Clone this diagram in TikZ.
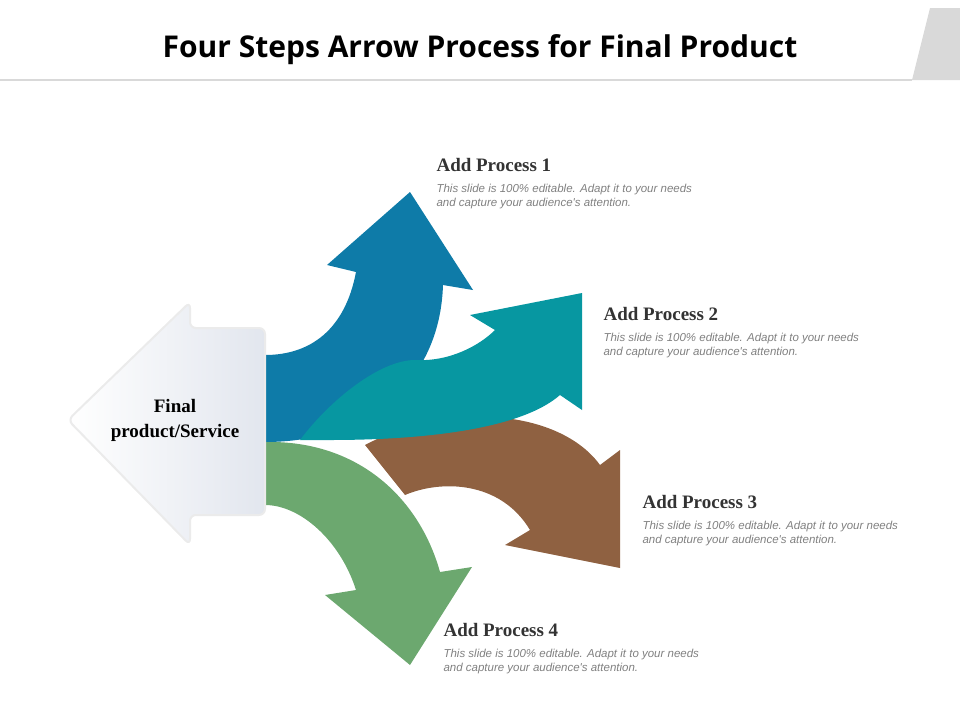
\documentclass[tikz,border=0pt]{standalone}
\usepackage{fontspec}
\setmainfont{Liberation Serif}
\setsansfont{Open Sans}
\newfontfamily\descfont{Liberation Sans}
\definecolor{blueA}{HTML}{0E7BA8}
\definecolor{tealA}{HTML}{0797A1}
\definecolor{brownA}{HTML}{8F6141}
\definecolor{greenA}{HTML}{6CA86F}
\definecolor{paleA}{HTML}{E2E6EE}
\begin{document}
\begin{tikzpicture}[x=1pt,y=-1pt,
    title/.style={font=\sffamily\bfseries\fontsize{30}{34}\selectfont},
    head/.style={anchor=west,font=\bfseries\fontsize{19}{22}\selectfont,text=black!80},
    desc/.style={anchor=north west,align=left,font=\descfont\itshape\fontsize{11.5}{14}\selectfont,text=black!50},
    shade/.style={draw=black!8,line width=2pt}]

\useasboundingbox (0,0) rectangle (960,720);

% title bar
\node[title] (title) at (480,50) {Four Steps Arrow Process for Final Product};
\fill[black!15] (930,8) -- (960,8) -- (960,80) -- (912,80) -- cycle;
\draw[black!15,line width=1.5pt] (0,80) -- (912,80);

% arrows
\fill[greenA] (265,442) .. controls (360,440) and (420,500) .. (440,572)
   -- (472,567) -- (410,665) -- (325,595) -- (356,590)
   .. controls (340,540) and (300,505) .. (265,505) -- cycle;
\fill[brownA] (365,445) .. controls (450,400) and (560,410) .. (600,465)
   -- (620,450) -- (620,568) -- (505,545) -- (530,530)
   .. controls (500,480) and (440,480) .. (405,495) -- cycle;
\fill[blueA] (265,442) .. controls (370,442) and (440,380) .. (443,285)
   -- (473,290) -- (410,192) -- (327,265) -- (356,272)
   .. controls (345,330) and (310,355) .. (265,355) -- cycle;
\fill[tealA] (300,440) .. controls (330,400) and (380,360) .. (415,360)
   .. controls (450,362) and (480,345) .. (495,330)
   -- (470,315) -- (582,293) -- (582,410) -- (560,395)
   .. controls (520,430) and (420,440) .. (330,440) -- cycle;

% center arrow
\filldraw[shade,left color=white,right color=paleA,rounded corners=6pt]
   (68,420) -- (190,302) -- (190,328) -- (265,328) -- (265,515)
   -- (190,515) -- (190,545) -- cycle;
\node[align=center,font=\bfseries\fontsize{19}{25}\selectfont] (final) at (175,420) {Final\\product/Service};

% labels
\node[head] (h1) at (433,165) {Add Process 1};
\node[desc] (d1) at (433,181) {This slide is 100\% editable. Adapt it to your needs\\and capture your audience's attention.};
\node[head] (h2) at (600,314) {Add Process 2};
\node[desc] (d2) at (600,330) {This slide is 100\% editable. Adapt it to your needs\\and capture your audience's attention.};
\node[head] (h3) at (639,502) {Add Process 3};
\node[desc] (d3) at (639,518) {This slide is 100\% editable. Adapt it to your needs\\and capture your audience's attention.};
\node[head] (h4) at (440,630) {Add Process 4};
\node[desc] (d4) at (440,646) {This slide is 100\% editable. Adapt it to your needs\\and capture your audience's attention.};
\end{tikzpicture}
\end{document}
